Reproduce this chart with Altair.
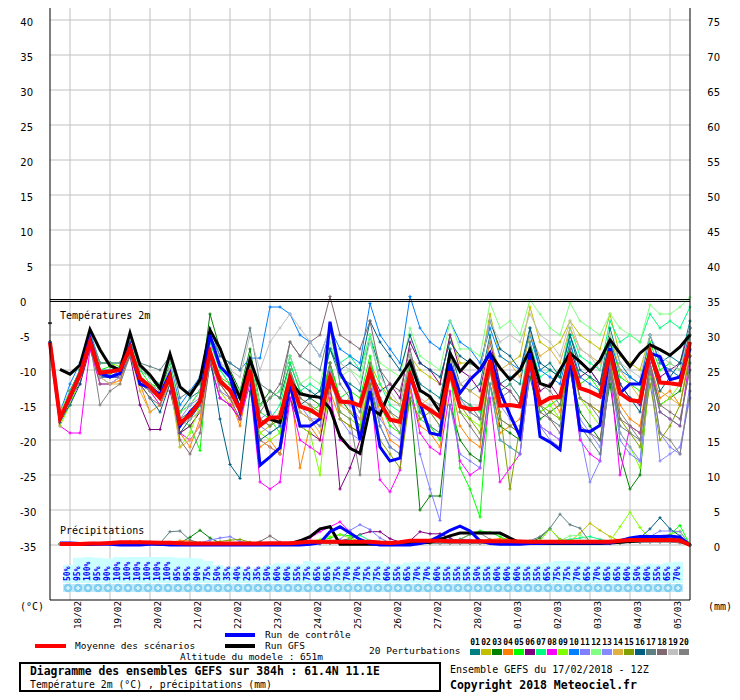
import altair as alt
import pandas as pd

MONO = "DejaVu Sans Mono"
SANS = "DejaVu Sans"

# ---------------- data ----------------
dates = ["18/02", "19/02", "20/02", "21/02", "22/02", "23/02", "24/02", "25/02",
         "26/02", "27/02", "28/02", "01/03", "02/03", "03/03", "04/03", "05/03"]
left_ticks = [-35, -30, -25, -20, -15, -10, -5, 0, 5, 10, 15, 20, 25, 30, 35, 40]
right_ticks = [0, 5, 10, 15, 20, 25, 30, 35, 40, 45, 50, 55, 60, 65, 70, 75]

members = ["%02d" % k for k in range(1, 21)]
colors = ["#008080", "#c0c000", "#008000", "#ff8000", "#00ff00", "#800080", "#00ff80",
          "#ff00ff", "#80ff00", "#0080ff", "#8080ff", "#80ff80", "#8888ff", "#e0b040",
          "#80a000", "#005f80", "#5f7f80", "#806870", "#c0c0c0", "#808080"]

# 2m temperature, every 6 h from 17/02 12Z (65 values)
t_mean = [-6.1,
          -16.9, -13.8, -10.7, -6.0, -10.4, -10.2, -10.0, -6.9, -11.2, -12.4, -14.0, -11.0,
          -17.6, -16.4, -14.5, -7.4, -11.6, -12.9, -15.7, -10.0, -17.9, -16.8, -16.8, -11.2,
          -15.2, -15.7, -16.6, -11.0, -14.5, -14.6, -15.1, -10.2, -14.6, -17.1, -17.4, -10.7,
          -14.8, -15.7, -16.7, -10.2, -15.2, -15.6, -15.5, -8.6, -15.1, -15.0, -15.2, -8.6,
          -14.8, -14.0, -13.8, -8.1, -12.6, -13.1, -13.8, -7.4, -13.3, -14.3, -14.5, -7.4,
          -11.8, -11.9, -12.1, -6.0]
t_ctrl = [-6,
          -17, -14, -10.5, -5.5, -10.5, -11, -10.5, -6.5, -12, -12.5, -13.5, -10.5,
          -18, -16, -14.5, -5, -9.5, -11, -16, -10, -23.6, -22.4, -21.1, -12,
          -18, -18, -17, -3.1, -10.4, -12.9, -20, -13, -21, -23, -22.6, -10.5,
          -14.7, -19, -19.3, -9.1, -13.3, -11.4, -10, -7.6, -13, -16.4, -19.5, -7.6,
          -19.5, -20.3, -21.4, -8.1, -18.6, -18.8, -17.9, -6.9, -13.3, -12, -12, -7.6,
          -8.1, -11.4, -11, -7]
t_gfs0 = [-3.3]
t_gfs = [None,
         -9.9, -10.6, -9.3, -4.2, -7.1, -9.4, -10, -4.7, -9.3, -10.7, -12.6, -7.7,
         -12.4, -13.6, -11.4, -4.3, -6.9, -10.7, -14, -8.5, -12.5, -17, -17.5, -11.5,
         -13.4, -13.7, -13.9, -15.5, -19.5, -21.2, -21.9, -15.4, -16.4, -13, -11, -8.8,
         -12.9, -13.8, -16, -7.6, -10.2, -8.6, -10, -7.6, -9.7, -11.4, -10, -7.1,
         -11.9, -12.4, -10, -7.6, -8.8, -10.2, -8.6, -5.7, -7.6, -9.5, -7.6, -6.4,
         -7.1, -7.9, -6.7, -5]

t_p01 = [-6, -17.5, -15, -11, -5.5, -11, -10.5, -10, -6.5, -11, -12, -13.5, -10.5, -16, -14, -13, -6, -9, -11, -14, -8.5, -15, -14, -13, -8, -12, -13, -14, -7, -11, -12, -13, -5, -10, -14, -15, -8, -12, -13, -14, -7, -12, -13, -12, -5, -12, -11, -12, -4, -10, -9, -11, -5, -9, -10, -12, -4, -9, -11, -12, -5, -9, -8, -9, -3]
t_p02 = [-6, -17, -14, -11, -6, -10, -10, -10, -7, -12, -13, -15, -12, -19, -18, -16, -8, -13, -15, -17, -11, -19, -18, -17, -11, -16, -17, -18, -12, -15, -14, -15, -9, -12, -14, -15, -8, -10, -11, -12, -5, -9, -9, -10, -2, -8, -9, -8, -1, -6, -7, -6, -3, -5, -6, -7, -2, -8, -9, -10, -5, -9, -10, -11, -4]
t_p03 = [-6, -17, -13, -10, -5, -9, -9, -10, -6, -10, -11, -13, -9, -16, -15, -13, -2, -7, -10, -13, -7, -15, -13, -14, -9, -13, -14, -15, -9, -14, -16, -18, -12, -18, -21, -22, -14, -30, -28, -28, -15, -20, -22, -23, -12, -18, -19, -20, -11, -17, -16, -15, -10, -16, -18, -20, -12, -22, -27, -25, -10, -15, -14, -13, -7]
t_p04 = [-6, -16.5, -14, -11, -6.5, -11, -12, -11.5, -7.5, -12, -16, -15, -11.5, -19, -21, -17, -8, -12, -14, -18, -11, -21, -20, -22, -12, -24, -18, -20, -13, -17, -18, -19, -11, -16, -20, -21, -13, -18, -19, -21, -11, -18, -20, -21, -10, -19, -18, -17, -9, -15, -14, -16, -9, -14, -15, -16, -8, -15, -17, -18, -9, -14, -13, -15, -8]
t_p05 = [-6, -16, -13, -10, -5, -10, -9.5, -10, -6.5, -10, -12, -12.5, -10, -17, -18, -21.5, -6, -10, -12, -15, -9, -16, -17, -19, -10, -15, -16, -15, -9, -14, -13, -14, -8, -15, -18, -19, -9, -16, -18, -20, -9, -24, -27, -31, -12, -20, -21, -22, -10, -16, -15, -14, -6, -12, -11, -13, -5, -11, -12, -13, -6, -10, -9, -10, -4]
t_p06 = [-6, -17, -14, -12, -7, -11, -11, -11, -8, -15, -18.5, -18.5, -13, -19, -18, -16, -9, -14, -15, -17, -11, -20, -21, -22, -14, -18, -19, -20, -12, -27, -24, -20, -10, -13, -12, -14, -6, -9, -10, -12, -5, -10, -11, -13, -6, -12, -13, -15, -8, -13, -12, -14, -7, -11, -10, -12, -6, -12, -14, -15, -7, -11, -10, -9, -4]
t_p07 = [-6, -17, -14, -11, -6, -10, -10, -9.5, -7, -11, -12, -14, -11, -17, -16, -14, -6, -10, -12, -14, -9, -18, -17, -15, -9, -13, -12, -13, -7, -9, -8, -10, -5, -12, -15, -16, -10, -17, -18, -19, -10, -14, -15, -16, -8, -13, -12, -14, -6, -11, -10, -11, -4, -8, -9, -10, -3, -6, -5, -6, -2, -4, -3, -4, -1]
t_p08 = [-6, -18, -19, -19, -7, -12, -12, -11, -8, -12, -13, -15, -12, -19, -20, -18, -9, -14, -15, -17, -12, -26, -27, -26, -14, -20, -21, -22, -14, -20, -21, -22, -12, -25.7, -27.4, -24.3, -12, -19, -21, -22, -13, -23, -25, -24, -14, -26, -24, -22, -10, -18, -19, -20, -9, -20, -22, -23, -10, -25, -18, -19, -9, -16, -17, -18, -8]
t_p09 = [-6, -18, -15, -11, -5.5, -9, -9, -9.5, -6, -12, -13, -14, -11, -21, -19, -15, -7, -11, -13, -16, -10, -19, -20, -19, -11, -18, -19, -25, -10, -16, -17, -18, -11, -15, -17, -17, -9, -13, -14, -16, -8, -16, -17, -18, -9, -17, -18, -19, -9, -16, -15, -17, -8, -14, -16, -18, -8, -19, -21, -24, -11, -15, -14, -12, -5]
t_p10 = [-6, -16, -12, -9, -4.5, -9, -9, -9, -6, -10, -11, -12, -9, -15, -13, -11, -5, -8, -9, -10, -8.3, -8.3, -1, -1, -2, -5, -6, -8, -4, -7, -8, -9, -0.5, -5, -7, -9, 0.5, -4, -6, -7, -3, -6, -7, -9, -4, -8, -9, -10, -5, -10, -11, -12, -6, -11, -12, -13, -6, -10, -11, -12, -5, -9, -10, -11, -4]
t_p11 = [-6, -17, -13, -10, -5, -10, -10, -10, -7, -11, -12, -13, -10, -18, -17, -15, -7, -13, -14, -16, -11, -17, -16, -18, -10, -15, -17, -18, -10, -17, -19, -20, -11, -18, -21, -22, -12, -22, -27, -31.5, -15, -22, -23, -24, -12, -20, -21, -22, -10, -18, -20, -21, -9, -19, -26, -23, -10, -20, -22, -23, -10, -19, -21, -22, -12]
t_p12 = [-6, -16, -13, -10, -5, -9, -9, -9, -6, -10, -11, -12, -9, -16, -15, -13, -5, -9, -11, -13, -8, -15, -14, -13, -8, -12, -11, -12, -6, -11, -10, -11, -5, -9, -10, -11, -4, -8, -9, -10, -3, -7, -7, -8, -0.4, -4, -3, -5, 0, -2, -4, -5, -0.4, -3, -4, -5, -2, -4, -5, -6, -0.7, -2, -2, -1, 0.4]
t_p13 = [-6, -17, -14, -11, -6, -11, -11, -10, -7, -12, -13, -14, -11, -17, -15, -14, -7, -12, -13, -15, -9, -18, -19, -18, -11, -16, -17, -17, -11, -14, -15, -17, -10, -17, -19, -20, -11, -15, -16, -18, -9, -14, -16, -17, -8, -15, -17, -19, -9, -18, -19, -20, -10, -17, -19, -21, -9, -19, -21, -23, -10, -23, -22, -21, -14]
t_p14 = [-6, -17, -14, -11, -6, -11, -12, -12, -7.5, -13, -16, -15, -12, -21, -20, -18, -9, -12, -14, -16, -11, -20, -21, -22, -12, -16, -17, -19, -11, -15, -16, -17, -10, -14, -16, -18, -11, -15, -14, -16, -9, -12, -13, -14, -6, -10, -9, -11, -5, -8, -7, -9, -4, -7, -8, -9, -5, -10, -12, -14, -8, -13, -14, -15, -7]
t_p15 = [-6, -17, -14, -10, -5.5, -10, -10.5, -10, -7, -11, -12, -13, -10, -18, -17, -16, -8, -11, -12, -14, -9, -17, -18, -16, -10, -14, -15, -16, -9, -17, -18, -19, -12, -20, -22, -24, -14, -17, -16, -18, -9, -15, -17, -19, -10, -16, -27, -18, -9, -15, -16, -17, -8, -14, -15, -16, -9, -17, -19, -21, -12, -20, -18, -15, -8]
t_p16 = [-6, -17, -15, -12, -6, -11, -11, -11, -8, -12, -14, -16, -12, -19, -17, -15, -8, -17, -23.5, -25.5, -13, -20, -19, -18, -11, -15, -14, -13, -7, -10, -9, -10, -3, -6, -8, -10, -5, -9, -10, -11, -6, -8, -9, -10, -3, -7, -8, -10, -4, -9, -10, -11, -5, -10, -11, -12, -6, -12, -14, -16, -8, -13, -11, -9, -5]
t_p17 = [-6, -17, -13, -10, -5, -9, -9, -9, -6, -9, -9.5, -10, -8, -14, -13, -12, -4, -8, -9, -10, -4, -12, -13, -14, -6, -8, -9, -10, -4, -12, -14, -16, -9, -14, -16, -17, -8, -13, -14, -15, -7, -14, -15, -17, -8, -13, -12, -14, -7, -15, -17, -18, -10, -18, -20, -22, -11, -18, -19, -20, -10, -16, -17, -18, -9]
t_p18 = [-6, -17, -14, -11, -6, -12, -12, -11, -8, -12, -14, -15, -11, -20, -22, -19, -9, -12, -14, -17, -10, -16, -14, -12, -6, -8, -6, -5, 0.5, -5, -6, -7, -3, -10, -12, -13, -7, -13, -14, -15, -8, -16, -18, -20, -10, -17, -18, -19, -9, -16, -17, -19, -10, -18, -19, -20, -10, -17, -18, -19, -9, -15, -16, -17, -10]
t_p19 = [-6, -17, -14, -11, -6, -11, -12, -11, -7, -11, -12, -13, -10, -18, -17, -16, -6, -9, -10, -11, -5, -10, -6, -4, -2, -4, -6, -8, -4, -9, -10, -12, -6, -11, -13, -15, -8, -14, -15, -17, -9, -12, -11, -10, -3, -6, -5, -6, -2, -5, -6, -8, -3, -7, -8, -10, -5, -9, -10, -11, -5, -8, -9, -10, -4]
t_p20 = [-6, -17, -14, -11, -6, -15, -13, -12, -8, -12, -13, -14, -11, -17, -16, -15, -7, -11, -13, -15, -9, -17, -18, -17, -10, -14, -15, -17, -9, -16, -17, -25, -10, -15, -17, -19, -9, -16, -18, -19, -10, -15, -16, -17, -9, -14, -13, -15, -6, -12, -13, -15, -7, -14, -15, -17, -9, -16, -18, -20, -10, -19, -20, -22, -13]
t_perts = [t_p01, t_p02, t_p03, t_p04, t_p05, t_p06, t_p07, t_p08, t_p09, t_p10,
           t_p11, t_p12, t_p13, t_p14, t_p15, t_p16, t_p17, t_p18, t_p19, t_p20]

# 6-hourly precipitation (mm), from +6 h to +384 h (64 values)
r_mean = [.15, .15, .15, .2, .2, .3, .38, .38, .38, .35, .33, .33, .25, .2, .2, .2, .2, .2, .2, .2, .22, .25, .25, .25, .35, .45, .45, .45, .45, .45, .45, .45, .35, .3, .4, .6, .6, .6, .6, .55, .55, .55, .55, .55, .55, .55, .5, .45, .45, .45, .45, .45, .45, .45, .45, .45, .6, .7, .7, .7, .7, .7, .65, 0]
r_ctrl = [.3, .3, .2, .1, .1, .1, 0, 0, 0, .1, .1, 0, 0, 0, 0, 0, 0, 0, 0, 0, 0, 0, 0, 0, 0, .1, .3, 1.9, 2.6, 1.7, .8, .2, 0, 0, 0, 0, .2, .6, 1.3, 2.1, 2.7, 2.0, .6, .2, .1, .1, .1, .2, .2, .3, .3, .3, .3, .3, .3, .3, .6, 1.0, 1.2, 1.2, 1.2, 1.3, 1.1, 0]
r_gfs = [.1, .1, .1, .1, .2, .2, .2, .2, .2, .2, .1, .1, .1, .1, .1, .1, .1, .1, .1, .1, .1, .1, .2, .2, .6, 1.2, 2.3, 2.6, .1, .1, .1, .1, .1, .1, .2, .3, .3, .4, .8, 1.3, 1.7, 1.7, 1.7, 1.7, 1.7, 1.0, .3, .2, .2, .2, .2, .2, .2, .2, .2, .3, .4, .5, .6, .9, 1.0, .8, .6, 0]
r_p01 = [.1, .1, .1, .2, .2, .3, .3, .3, .3, .2, .2, .2, .2, .2, .1, .1, .1, .1, .1, .1, .1, .2, .2, .2, .2, .3, .3, .3, .3, .3, .3, .2, .2, .2, .2, .4, .5, .6, 1.0, .6, .4, .4, .4, .4, .3, .3, .3, .3, .3, .3, .3, .3, .3, .3, .3, .3, .3, .4, .5, .5, .5, .5, .4, 0]
r_p02 = [.1, .1, .2, .2, .2, .3, .4, .4, .4, .3, .3, .3, .2, .2, .2, .1, .1, .1, .1, .1, .1, .2, .2, .2, .2, .3, .3, .4, .4, .3, .3, .2, .2, .2, .3, .4, .4, .4, .5, .5, .5, .5, .5, .5, .4, .4, .4, .4, .4, .4, .4, .5, 1.7, 3.1, 2.1, 1.2, .6, .5, .5, .5, .5, .5, .4, 0]
r_p03 = [.1, .1, .1, .1, .2, .2, .3, .3, .3, .3, .2, .2, .3, 1.1, 2.1, 1.0, .3, .2, .2, .1, .1, .1, .1, .1, .2, .2, .2, .3, .3, .3, .3, .3, .2, .2, .2, .3, .4, .4, .4, .4, .4, .4, .4, .4, .3, .3, .3, .4, 1.0, 2.3, .8, .4, .3, .3, .3, .3, .4, .4, .5, .5, .5, .6, .5, 0]
r_p04 = [.1, .1, .2, .2, .2, .3, .3, .3, .3, .3, .3, .4, .6, .6, .3, .2, .2, .2, .2, .2, .2, .2, .2, .2, .3, .4, .5, .5, .4, .4, .4, .3, .3, .3, .3, .4, .4, .5, .5, .5, .5, .5, .6, .8, .9, .9, .6, .4, .4, .4, .4, .4, .4, .4, .4, .4, .4, .5, .6, .6, .6, .6, .5, 0]
r_p05 = [.1, .1, .1, .1, .2, .2, .3, .3, .3, .3, .3, .2, .2, .2, .2, .2, .2, .2, .2, .2, .2, .2, .2, .2, .3, .4, .6, 1.0, 1.5, 1.3, .8, .4, .3, .3, .3, .4, .5, .5, .5, .6, .8, 1.5, 2.0, 1.8, 1.2, .5, .4, .4, .4, .4, .4, .4, .4, .4, .4, .4, .4, .5, .6, .8, 1.0, 1.5, 2.8, 0]
r_p06 = [.1, .1, .1, .2, .2, .3, .4, .5, .5, .4, .3, .3, .3, .2, .2, .2, .2, .2, .2, .2, .2, .2, .3, .3, .3, .4, .5, .5, .6, .9, 1.5, 1.9, 1.9, .9, .4, .6, 1.9, 1.6, 1.6, 1.0, .4, .3, .3, .3, .3, .3, .3, .3, .3, .3, .3, .3, .3, .3, .3, .3, .4, .4, .5, .5, .5, .5, .4, 0]
r_p07 = [.1, .1, .1, .1, .2, .2, .3, .3, .3, .3, .2, .2, .2, .2, .2, .2, .1, .1, .1, .1, .2, .2, .2, .2, .3, .3, .4, .5, .5, .8, 1.4, .6, .4, .3, .3, .4, .5, .5, .5, .5, .5, .6, .6, .5, .5, .5, .4, .4, .4, .5, .6, .8, 1.0, 1.2, .8, .5, .5, .5, .6, .6, .6, .7, .6, 0]
r_p08 = [.1, .1, .1, .1, .2, .2, .3, .3, .3, .3, .2, .2, .2, .2, .2, .2, .2, .2, .2, .2, .2, .2, .2, .3, .6, 1.0, 1.9, 2.6, 3.3, 1.9, .5, .3, .3, .3, .3, .4, .4, .4, .4, .4, .4, .4, .4, .4, .4, .4, .4, .4, .4, .4, .4, .4, .4, .4, .4, .4, .4, .5, .5, .5, .5, .5, .4, 0]
r_p09 = [.1, .1, .1, .2, .2, .2, .3, .3, .3, .2, .2, .2, .2, .2, .2, .2, .2, .2, .2, .2, .2, .2, .2, .2, .3, .4, .8, 1.2, 1.5, 1.0, .5, .3, .3, .3, .3, .4, .4, .4, .4, .4, .4, .4, .5, .5, .5, .5, .5, .5, .6, 2.3, .8, .6, .4, .4, .4, .6, 2.6, 4.7, 2.5, .9, .8, 1.5, 2.0, 0]
r_p10 = [.1, .2, .2, .2, .2, .3, .3, .3, .3, .3, .2, .2, .2, .2, .2, .2, .2, .1, .1, .1, .1, .1, .2, .2, .2, .3, .3, .4, .4, .4, .4, .3, .3, .3, .3, .3, .4, .5, .6, .7, .8, .7, .5, .4, .4, .4, .4, .4, .4, .4, .4, .4, .4, .4, .4, .5, .6, .8, .9, 1.0, 1.1, 1.0, .8, 0]
r_p11 = [.1, .1, .1, .1, .2, .2, .3, .3, .3, .3, .2, .2, .2, .2, .3, .7, 1.0, 1.2, .5, .3, .2, .2, .2, .2, .3, .3, .4, .5, .8, 2.1, 2.9, 2.2, 1.0, .3, .3, .3, .3, .4, .4, .4, .4, .4, .4, .4, .4, .4, .4, .4, .4, .4, .4, .4, .4, .4, .4, .4, .4, .5, .5, .6, .8, 1.0, .9, 0]
r_p12 = [.1, .1, .1, .1, .2, .2, .2, .3, .3, .3, .2, .2, .2, .2, .2, .2, .2, .2, .2, .2, .2, .2, .2, .2, .2, .3, .3, .4, .5, .5, .4, .3, .3, .3, .3, .4, .4, .4, .4, .4, .4, .5, .5, .5, .5, .5, .4, .4, .4, .4, .6, 1.3, 1.4, .6, .4, .4, .4, .5, .6, .7, .8, .9, .8, 0]
r_p13 = [.1, .1, .1, .2, .2, .2, .3, .3, .3, .3, .3, .2, .2, .2, .2, .2, .2, .2, .2, .2, .2, .2, .2, .2, .3, .3, .4, .4, .4, .4, .4, .3, .3, .3, .3, .4, .4, .4, .5, .5, .5, .5, .5, .5, .4, .4, .4, .4, .4, .4, .4, .4, .4, .4, .4, .4, .5, .6, .8, 1.2, 2.0, 2.0, 1.9, 0]
r_p14 = [.1, .1, .1, .1, .2, .3, .3, .3, .3, .3, .3, .3, .2, .2, .2, .2, .2, .2, .2, .2, .2, .2, .2, .2, .3, .3, .3, .3, .3, .3, .3, .3, .3, .3, .4, .5, .6, .7, .7, .6, .5, .5, .5, .5, .5, .5, .5, .5, .5, .5, .5, .5, .5, .5, .5, .5, .5, .5, .6, .6, .6, .6, .5, 0]
r_p15 = [.1, .1, .1, .1, .1, .2, .2, .2, .2, .2, .2, .2, .2, .2, .2, .3, .5, .7, .8, .4, .2, .2, .2, .2, .2, .3, .3, .3, .3, .3, .3, .3, .3, .3, .3, .3, .3, .3, .4, .4, .4, .4, .4, .4, .4, .4, .4, .4, .4, .4, .4, .4, .4, .4, .4, .4, .4, .4, .5, .5, .6, .6, .5, 0]
r_p16 = [.1, .1, .1, .1, .2, .2, .2, .2, .2, .2, .2, .2, .2, .2, .2, .2, .2, .2, .2, .2, .2, .2, .2, .2, .2, .2, .2, .3, .3, .3, .3, .3, .3, .3, .3, .3, .3, .3, .3, .3, .3, .3, .3, .3, .3, .3, .3, .3, .3, .3, .3, .3, .3, .3, .3, .4, .5, .6, 1.0, 2.3, 3.9, 2.3, 1.3, 0]
r_p17 = [.1, .1, .1, .1, .2, .2, .3, .3, .3, .2, .25, 1.9, 2.0, .7, .3, .2, .2, .2, .2, .2, .2, .2, .2, .2, .2, .3, .3, .3, .3, .3, .3, .3, .3, .3, .3, .3, .3, .3, .3, .3, .3, .3, .3, .3, .3, .3, .4, .6, 1.2, 2.4, 4.4, 2.9, 2.4, .4, .3, .3, .3, .4, .4, .5, .5, .5, .4, 0]
r_p18 = [.1, .1, .1, .1, .2, .2, .2, .2, .2, .2, .2, .2, .2, .2, .2, .2, .2, .2, .2, .2, .5, 1.3, .4, .2, .2, .2, .3, .3, .3, .3, .3, .3, .3, .3, .3, .3, .3, .3, .3, .3, .3, .3, .3, .3, .3, .3, .3, .3, .3, .3, .3, .3, .3, .3, .3, .3, .3, .4, .4, .4, .4, .4, .3, 0]
r_p19 = [.1, .1, .1, .1, .1, .2, .2, .2, .2, .2, .2, .2, .2, .2, .2, .2, .2, .2, .2, .2, .2, .2, .2, .2, .2, .2, .3, .3, .3, .3, .3, .3, .3, .3, .3, .3, .3, .4, .4, .4, .4, .4, .4, .4, .4, .4, .4, .4, .4, .4, .4, .4, .4, .4, .4, .4, .4, .4, .5, .5, .5, .5, .4, 0]
r_p20 = [.1, .1, .1, .1, .2, .2, .2, .2, .2, .2, .2, .2, .2, .2, .2, .2, .2, .2, .2, .2, .2, .2, .2, .2, .2, .3, .3, .3, .3, .3, .3, .3, .3, .3, .3, .4, .4, .4, .5, .6, .8, 1.5, 1.7, .8, .4, .4, .4, .4, .4, .4, .4, .4, .4, .4, .4, .4, .4, .4, .5, .5, .5, .5, .4, 0]
r_perts = [r_p01, r_p02, r_p03, r_p04, r_p05, r_p06, r_p07, r_p08, r_p09, r_p10,
           r_p11, r_p12, r_p13, r_p14, r_p15, r_p16, r_p17, r_p18, r_p19, r_p20]

# percentage row (one label every 6 h)
pct = [50, 95, 100, 95, 90, 100, 100, 100, 100, 100, 100, 95, 95, 90, 75, 50, 35, 40, 25, 35,
       50, 60, 60, 55, 75, 65, 65, 75, 70, 70, 75, 75, 60, 55, 65, 70, 70, 60, 55, 55,
       55, 50, 55, 60, 60, 60, 55, 55, 65, 75, 75, 70, 65, 70, 65, 65, 60, 50, 60, 55,
       65, 70]

# ---------------- tables ----------------
def fit(vals, n):
    vals = list(vals)[:n]
    return vals + [None] * (n - len(vals))

t_hours = [6 * i for i in range(65)]
r_hours = [6 * i for i in range(1, 65)]

rows = []
for m, vals in zip(members, t_perts):
    for h, v in zip(t_hours, fit(vals, 65)):
        rows.append({"h": h, "v": v, "m": m})
df_tp = pd.DataFrame(rows)
df_tmean = pd.DataFrame({"h": t_hours, "v": fit(t_mean, 65)})
df_tctrl = pd.DataFrame({"h": t_hours, "v": fit(t_ctrl, 65)})
df_tgfs = pd.DataFrame({"h": t_hours, "v": fit(t_gfs, 65)}).dropna()
df_tgfs0 = pd.DataFrame({"h": [0], "v": t_gfs0})

rows = []
for m, vals in zip(members, r_perts):
    for h, v in zip(r_hours, fit(vals, 64)):
        rows.append({"h": h, "mm": v, "m": m})
df_rp = pd.DataFrame(rows)
df_rmean = pd.DataFrame({"h": r_hours, "mm": fit(r_mean, 64)})
df_rctrl = pd.DataFrame({"h": r_hours, "mm": fit(r_ctrl, 64)})
df_rgfs = pd.DataFrame({"h": r_hours, "mm": fit(r_gfs, 64)})

df_pct = pd.DataFrame({"h": [12 + 6 * k for k in range(len(pct))], "p": pct})
df_pct["lab"] = df_pct["p"].astype(str) + "%"
df_dates = pd.DataFrame({"h": [12 + 24 * k for k in range(len(dates))], "d": dates})

# ---------------- scales ----------------
xs = alt.Scale(domain=[0, 384], nice=False, zero=False)
ys = alt.Scale(domain=[-300 / 7, 292 / 7], nice=False, zero=False)
ps = alt.Scale(domain=[-168.75, 3531.25], nice=False, zero=False)
cs = alt.Scale(domain=members, range=colors)
CROSS = "M-1,0L1,0M0,-1L0,1"

X = alt.X("h:Q", scale=xs, axis=None)
Y = alt.Y("v:Q", scale=ys, axis=None)
one = pd.DataFrame({"a": [0]})


def txt(s, x, y, size=10, bold=False, font=MONO, align="left", color="black"):
    return alt.Chart(pd.DataFrame({"t": [s]})).mark_text(
        align=align, baseline="middle", font=font, fontSize=size,
        fontWeight="bold" if bold else "normal", color=color
    ).encode(x=alt.value(x), y=alt.value(y), text="t:N")


def hrule(x1, x2, y, color, w):
    return alt.Chart(one).mark_rule(color=color, strokeWidth=w).encode(
        x=alt.value(x1), x2=alt.value(x2), y=alt.value(y))


# ---------------- background grid ----------------
vgrid = alt.Chart(df_dates).mark_rule(color="#c0c0c0", strokeWidth=1).encode(x=X)
hgrid = alt.Chart(pd.DataFrame({"v": left_ticks})).mark_rule(color="#c0c0c0", strokeWidth=1).encode(y=Y)
bg = alt.layer(vgrid, hgrid)

# ---------------- percentage band ----------------
cyan = alt.Chart(df_pct).transform_calculate(x1="datum.h - 4.2", x2="datum.h + 1.8").mark_rect(
    color="#ccffff").encode(x=alt.X("x1:Q", scale=xs, axis=None), x2="x2:Q",
                            y=alt.Y("p:Q", scale=ps, axis=None), y2=alt.value(575))
band = alt.Chart(df_pct).transform_calculate(x1="datum.h - 4.2", x2="datum.h + 1.8").mark_rect(
    color="#bfeafa").encode(x=alt.X("x1:Q", scale=xs, axis=None), x2="x2:Q",
                            y=alt.value(576), y2=alt.value(584))
flakes = alt.Chart(df_pct).transform_calculate(xc="datum.h - 1.2").mark_point(
    shape="circle", filled=True, size=70, color="#7fcdf0", opacity=1).encode(
    x=alt.X("xc:Q", scale=xs, axis=None), y=alt.value(580))
flake_core = alt.Chart(df_pct).transform_calculate(xc="datum.h - 1.2").mark_point(
    shape="cross", filled=True, size=18, color="#d8f4ff", opacity=1).encode(
    x=alt.X("xc:Q", scale=xs, axis=None), y=alt.value(580))
pctl = alt.layer(cyan, band, flakes, flake_core)

# ---------------- foreground ----------------
fg = []
fg.append(alt.Chart(df_tp).mark_line(strokeWidth=1).encode(
    x=X, y=Y, color=alt.Color("m:N", scale=cs, legend=None), detail="m:N"))
fg.append(alt.Chart(df_tp).mark_point(shape=CROSS, size=10, strokeWidth=1, filled=False, opacity=1).encode(
    x=X, y=Y, color=alt.Color("m:N", scale=cs, legend=None)))
for df, col, w in [(df_tgfs, "#000000", 3), (df_tctrl, "#0000ff", 3), (df_tmean, "#ff0000", 4)]:
    fg.append(alt.Chart(df).mark_line(color=col, strokeWidth=w).encode(x=X, y=Y))
fg.append(alt.Chart(df_tgfs0).mark_tick(orient="horizontal", color="black", thickness=2, size=4).encode(x=X, y=Y))

PY = alt.Y("v:Q", scale=ys, axis=None)
fg.append(alt.Chart(df_rp).transform_calculate(v="datum.mm - 35").mark_line(strokeWidth=1).encode(
    x=X, y=PY, color=alt.Color("m:N", scale=cs, legend=None), detail="m:N"))
fg.append(alt.Chart(df_rp).transform_calculate(v="datum.mm - 35").mark_point(
    shape=CROSS, size=10, strokeWidth=1, filled=False, opacity=1).encode(
    x=X, y=PY, color=alt.Color("m:N", scale=cs, legend=None)))
for df, col, w in [(df_rgfs, "#000000", 3), (df_rctrl, "#0000ff", 3), (df_rmean, "#ff0000", 4)]:
    fg.append(alt.Chart(df).transform_calculate(v="datum.mm - 35").mark_line(
        color=col, strokeWidth=w).encode(x=X, y=PY))

# percentage labels
fg.append(alt.Chart(df_pct).transform_calculate(xl="datum.h - 1.2").mark_text(
    angle=270, align="left", baseline="middle", font=MONO, fontSize=8, fontWeight="bold",
    color="#0000ff").encode(x=alt.X("xl:Q", scale=xs, axis=None), y=alt.value(573), text="lab:N"))

# frame
fg.append(alt.Chart(pd.DataFrame({"h": [0, 384]})).mark_rule(color="black", strokeWidth=1).encode(x=X))
fg.append(alt.Chart(pd.DataFrame({"v": [-300 / 7]})).mark_rule(color="black", strokeWidth=1).encode(y=Y))
fg.append(hrule(0, 640, 291.5, "black", 1.2))
fg.append(hrule(0, 640, 293.5, "black", 1.2))

# axis labels
lt = pd.DataFrame({"v": left_ticks, "t": [str(v) for v in left_ticks]})
fg.append(alt.Chart(lt).transform_filter("datum.v <= 0").mark_text(
    align="left", baseline="middle", font=SANS, fontSize=10, dy=3).encode(
    x=alt.value(-30), y=Y, text="t:N"))
fg.append(alt.Chart(lt).transform_filter("datum.v > 0").mark_text(
    align="right", baseline="middle", font=SANS, fontSize=10, dy=3).encode(
    x=alt.value(-17), y=Y, text="t:N"))
rt = pd.DataFrame({"r": right_ticks, "t": [str(v) for v in right_ticks]})
fg.append(alt.Chart(rt).transform_calculate(v="datum.r - 35").mark_text(
    align="right", baseline="middle", font=SANS, fontSize=10, dy=3).encode(
    x=alt.value(670), y=Y, text="t:N"))
fg.append(alt.Chart(df_dates).transform_calculate(xd="datum.h + 4.5").mark_text(
    angle=270, align="right", baseline="middle", font=MONO, fontSize=9.3).encode(
    x=alt.X("xd:Q", scale=xs, axis=None), y=alt.value(593), text="d:N"))

# panel texts
fg.append(txt("Températures 2m", 10, 308))
fg.append(txt("Précipitations", 10, 523))
fg.append(txt("(°C)", -30, 599))
fg.append(txt("(mm)", 658, 599))

# legend
fg.append(hrule(-15, 16, 638, "#ff0000", 4))
fg.append(txt("Moyenne des scénarios", 25, 638, size=9.5))
fg.append(hrule(175, 205, 627, "#0000ff", 4))
fg.append(txt("Run de contrôle", 215, 627, size=9.5))
fg.append(hrule(175, 205, 638, "#000000", 4))
fg.append(txt("Run GFS", 215, 638, size=9.5))
fg.append(txt("Altitude du modele : 651m", 130, 649, size=9.5))
fg.append(txt("20 Perturbations", 319, 643, size=9.5))
for k, (m, c) in enumerate(zip(members, colors)):
    fg.append(alt.Chart(one).mark_rect(color=c).encode(
        x=alt.value(420 + 11 * k), x2=alt.value(430 + 11 * k), y=alt.value(641), y2=alt.value(647)))
    fg.append(txt(m, 425 + 11 * k, 635, size=8, bold=True, align="center"))

# title box
fg.append(alt.Chart(one).mark_rect(fill="white", stroke="black", strokeWidth=2).encode(
    x=alt.value(-30), x2=alt.value(390), y=alt.value(655), y2=alt.value(683)))
fg.append(txt("Diagramme des ensembles GEFS sur 384h : 61.4N 11.1E", -20, 664, size=11.4, bold=True))
fg.append(txt("Température 2m (°C) , précipitations (mm)", -20, 677, size=9.8))
fg.append(txt("Ensemble GEFS du 17/02/2018 - 12Z", 400, 662))
fg.append(txt("Copyright 2018 Meteociel.fr", 400, 678, size=11.5, bold=True))

chart = alt.layer(bg, pctl, alt.layer(*fg)).resolve_scale(y="independent").properties(
    width=640, height=592,
    padding={"left": 42, "top": 0, "right": 42, "bottom": 92},
    autosize=alt.AutoSizeParams(type="none"),
).configure_view(stroke=None)

chart.save("out.html", embed_options={"renderer": "svg", "actions": False})
